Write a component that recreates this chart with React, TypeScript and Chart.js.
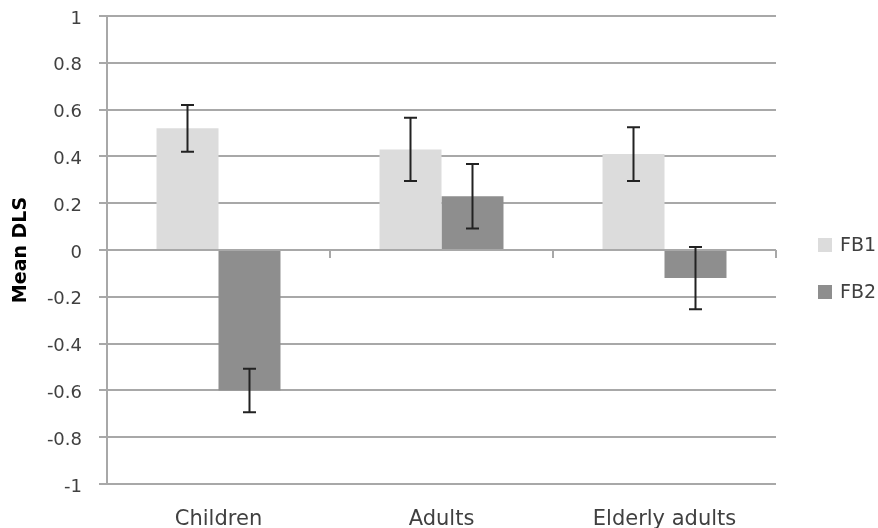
import { useEffect, useRef } from "react";
import { Chart, registerables } from "chart.js";

Chart.register(...registerables);

const categories = ["Children", "Adults", "Elderly adults"];
const seriesNames = ["FB1", "FB2"];
const fb1Values = [0.52, 0.43, 0.41];
const fb2Values = [-0.6, 0.23, -0.12];
const fb1Errors = [0.1, 0.135, 0.115];
const fb2Errors = [0.093, 0.138, 0.133];
const seriesColors = ["#dcdcdc", "#8e8e8e"];
const yMin = -1;
const yMax = 1;
const yStep = 0.2;

const FONT = "'DejaVu Sans', sans-serif";
const TEXT = "#404040";
const GRID = "#a8a8a8";

const errorBars = {
  id: "errorBars",
  afterDatasetsDraw(chart: any) {
    const { ctx } = chart;
    const y = chart.scales.y;
    const errs = [fb1Errors, fb2Errors];
    ctx.save();
    ctx.strokeStyle = "#222222";
    ctx.lineWidth = 2;
    chart.data.datasets.forEach((ds: any, di: number) => {
      const meta = chart.getDatasetMeta(di);
      meta.data.forEach((bar: any, i: number) => {
        const v = ds.data[i];
        const e = errs[di][i];
        const x = bar.x;
        const yt = y.getPixelForValue(v + e);
        const yb = y.getPixelForValue(v - e);
        const half = 6.5;
        ctx.beginPath();
        ctx.moveTo(x, yt);
        ctx.lineTo(x, yb);
        ctx.moveTo(x - half, yt);
        ctx.lineTo(x + half, yt);
        ctx.moveTo(x - half, yb);
        ctx.lineTo(x + half, yb);
        ctx.stroke();
      });
    });
    // category divider ticks on the zero line
    const xs = chart.scales.x;
    const y0 = y.getPixelForValue(0);
    ctx.strokeStyle = GRID;
    ctx.lineWidth = 2;
    for (let i = 1; i <= categories.length; i++) {
      const px =
        i < categories.length
          ? (xs.getPixelForValue(i - 1) + xs.getPixelForValue(i)) / 2
          : chart.chartArea.right;
      ctx.beginPath();
      ctx.moveTo(px, y0);
      ctx.lineTo(px, y0 + 8);
      ctx.stroke();
    }
    ctx.restore();
  },
};

const customLegend = {
  id: "customLegend",
  afterDraw(chart: any) {
    const { ctx } = chart;
    const ca = chart.chartArea;
    const x0 = ca.right + 42;
    const ys = [245, 292];
    ctx.save();
    ctx.font = `19px ${FONT}`;
    ctx.textBaseline = "middle";
    ctx.textAlign = "left";
    seriesNames.forEach((name, i) => {
      ctx.fillStyle = seriesColors[i];
      ctx.fillRect(x0, ys[i] - 7, 14, 14);
      ctx.fillStyle = TEXT;
      ctx.fillText(name, x0 + 22, ys[i] + 1);
    });
    ctx.restore();
  },
};

export default function App() {
  const ref = useRef<HTMLCanvasElement | null>(null);
  useEffect(() => {
    if (!ref.current) return;
    const chart = new Chart(ref.current, {
      type: "bar",
      data: {
        labels: categories,
        datasets: [
          {
            label: seriesNames[0],
            data: fb1Values,
            backgroundColor: seriesColors[0],
            barPercentage: 1,
            categoryPercentage: 0.556,
          },
          {
            label: seriesNames[1],
            data: fb2Values,
            backgroundColor: seriesColors[1],
            barPercentage: 1,
            categoryPercentage: 0.556,
          },
        ],
      },
      options: {
        animation: false,
        responsive: true,
        maintainAspectRatio: false,
        layout: { padding: { top: 16, right: 102, bottom: 0, left: 0 } },
        plugins: { legend: { display: false }, tooltip: { enabled: false } },
        scales: {
          x: {
            grid: { display: false },
            border: { display: false },
            ticks: {
              font: { family: FONT, size: 21 },
              color: TEXT,
              padding: 15,
              maxRotation: 0,
            },
            afterFit: (s: any) => {
              s.height = 44;
            },
          },
          y: {
            min: yMin,
            max: yMax,
            ticks: {
              stepSize: yStep,
              font: { family: FONT, size: 18 },
              color: TEXT,
              padding: 17,
              labelOffset: 3,
              callback: (v: any) => {
                const n = Math.round(Number(v) * 10) / 10;
                return n === 0 ? "0" : String(n);
              },
            },
            grid: { color: GRID, lineWidth: 2, tickLength: 8, drawTicks: true },
            border: { display: true, color: GRID, width: 2 },
            title: {
              display: true,
              text: "Mean DLS",
              color: "#000000",
              font: { family: FONT, size: 19, weight: "bold" },
              padding: { top: 10, bottom: 0 },
            },
            afterFit: (s: any) => {
              s.width = 107;
              s.paddingTop = 10;
              s.paddingBottom = 10;
            },
          },
        },
      },
      plugins: [errorBars, customLegend],
    });
    return () => chart.destroy();
  }, []);
  return (
    <div style={{ position: "fixed", left: 0, top: 0, width: 878, height: 528, background: "#ffffff" }}>
      <canvas ref={ref} />
    </div>
  );
}
